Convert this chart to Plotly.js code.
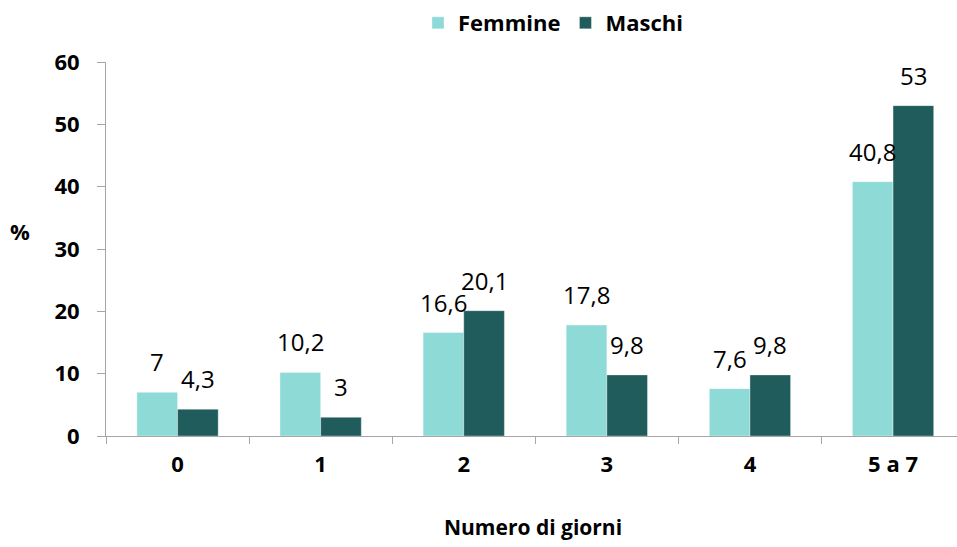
<!DOCTYPE html>
<html>
<head>
<meta charset="utf-8">
<script src="https://cdn.plot.ly/plotly-3.0.1.min.js"></script>
<style>html,body{margin:0;padding:0;background:#fff;overflow:hidden}#chart{width:957px;height:547px}</style>
</head>
<body>
<div id="chart"></div>
<script>
var categories = ["0", "1", "2", "3", "4", "5 a 7"];
var femmine = [7, 10.2, 16.6, 17.8, 7.6, 40.8];
var maschi = [4.3, 3, 20.1, 9.8, 9.8, 53];
var seriesNames = ["Femmine", "Maschi"];
var yTicks = [0, 10, 20, 30, 40, 50, 60];

var colF = "#8EDAD7", colM = "#1F5C5B";
var fontFam = "Open Sans, sans-serif";

var W = 957, H = 547, mL = 106, mR = 0, mT = 62, mB = 111;
var catStep = 143.1;
var plotW = W - mL - mR;
var xMax = -0.5 + plotW / catStep;
var bargap = 0.432;
var barW = catStep * (1 - bargap) / 2;

function fmt(v) { return String(v).replace(".", ","); }

var traces = [
  {type: "bar", name: seriesNames[0], x: categories, y: femmine,
   marker: {color: colF, line: {color: "rgba(255,255,255,0.6)", width: 0.6}}, hoverinfo: "x+y"},
  {type: "bar", name: seriesNames[1], x: categories, y: maschi,
   marker: {color: colM, line: {color: "rgba(255,255,255,0.6)", width: 0.6}}, hoverinfo: "x+y"}
];

var annotations = [];
[femmine, maschi].forEach(function (arr, s) {
  arr.forEach(function (v, i) {
    annotations.push({
      x: categories[i], y: v, xref: "x", yref: "y",
      text: fmt(v), showarrow: false, xanchor: "center", yanchor: "bottom",
      xshift: (s === 0 ? -1 : 1) * barW / 2, yshift: 12,
      font: {family: fontFam, size: 24, color: "#000"}
    });
  });
});
annotations.push({
  xref: "paper", yref: "paper", x: (20 - mL) / plotW, y: (436 - 231) / (436 - 62),
  text: "<b>%</b>", showarrow: false, xanchor: "center", yanchor: "middle",
  font: {family: fontFam, size: 22, color: "#000"}
});
annotations.push({
  xref: "paper", yref: "paper", x: (533 - mL) / plotW, y: (436 - 527) / (436 - 62),
  text: "<b>Numero di giorni</b>", showarrow: false, xanchor: "center", yanchor: "middle",
  font: {family: fontFam, size: 21, color: "#000"}
});

var layout = {
  width: W, height: H,
  margin: {l: mL, r: mR, t: mT, b: mB, pad: 0},
  paper_bgcolor: "#fff", plot_bgcolor: "#fff",
  barmode: "group", bargap: bargap, bargroupgap: 0,
  showlegend: true,
  legend: {orientation: "h", x: (553 - mL) / plotW, xanchor: "center", y: (436 - 23) / (436 - 62), yanchor: "middle",
           font: {family: fontFam, size: 22, color: "#000", weight: "bold"}, traceorder: "normal", itemclick: false,
           itemwidth: 30, tracegroupgap: 0},
  xaxis: {type: "category", range: [-0.5, xMax], showgrid: false, zeroline: false,
          showline: true, linecolor: "#A6A6A6", linewidth: 1,
          ticks: "outside", tickson: "boundaries", ticklen: 7, tickcolor: "#A6A6A6",
          ticklabelstandoff: 9,
          tickfont: {family: fontFam, size: 22, color: "#000", weight: "bold"}},
  yaxis: {range: [0, 60], tickvals: yTicks, showgrid: false, zeroline: false,
          showline: true, linecolor: "#A6A6A6", linewidth: 1,
          ticks: "outside", ticklen: 8, tickcolor: "#A6A6A6",
          ticklabelstandoff: 13,
          tickfont: {family: fontFam, size: 22, color: "#000", weight: "bold"}},
  annotations: annotations,
  font: {family: fontFam}
};

Plotly.newPlot("chart", traces, layout, {displayModeBar: false, staticPlot: true});
</script>
</body>
</html>
